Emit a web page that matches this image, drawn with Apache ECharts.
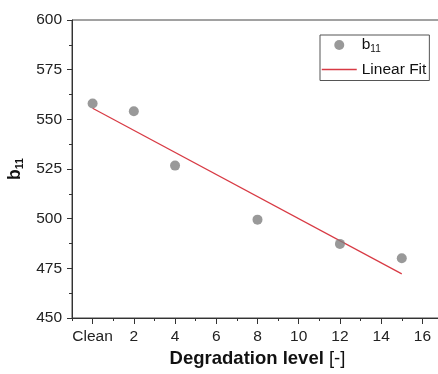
<!DOCTYPE html>
<html>
<head>
<meta charset="utf-8">
<script src="https://cdn.jsdelivr.net/npm/echarts@6/dist/echarts.min.js"></script>
<style>html,body{margin:0;padding:0;background:#fff}#c{width:438px;height:374px}</style>
</head>
<body>
<div id="c"></div>
<script>
// Axis categories (degradation levels on the x axis, -1 .. 17)
const axisCats = ['-1','0','1','2','3','4','5','6','7','8','9','10','11','12','13','14','15','16','17'];
const cleanLabel = 'Clean';
// Measured points
const levels = [0, 2, 4, 8, 12, 15];
const b11 = [558.0, 554.1, 526.7, 499.5, 487.3, 480.1];
// Linear fit end points
const fitLevels = [0, 15];
const fitValues = [555.6, 472.2];
// Y ticks
const yMin = 450, yMax = 600, yStep = 25;

const FONT = '"Liberation Sans", Arial, sans-serif';
const FIT_COLOR = '#d83a44';
const idx = v => axisCats.indexOf(String(v));

const chart = echarts.init(document.getElementById('c'), null, {renderer: 'canvas'});
chart.setOption({
  animation: false,
  backgroundColor: '#fff',
  textStyle: {fontFamily: FONT},
  grid: {left: 72, top: 20, width: 371, bottom: 56, containLabel: false, outerBoundsMode: 'none',
         show: true, borderColor: '#444', borderWidth: 1, backgroundColor: 'transparent'},
  legend: {
    orient: 'vertical', left: 320, top: 35,
    itemWidth: 35, itemHeight: 10, itemGap: 7,
    padding: [2, 3, 3, 1],
    borderColor: '#555', borderWidth: 1,
    data: [
      {name: 'b11', icon: 'circle'},
      {name: 'Linear Fit', itemStyle: {color: 'rgba(0,0,0,0)', borderWidth: 0}, lineStyle: {color: FIT_COLOR, width: 1.5}}
    ],
    textStyle: {fontFamily: FONT, fontSize: 15.5, color: '#111',
      rich: {b: {fontFamily: FONT, fontSize: 15.5, color: '#111'}, s: {fontFamily: FONT, fontSize: 10, color: '#111', padding: [9, 0, 0, 0]}}},
    formatter: n => n === 'b11' ? '{b|b}{s|11}' : n
  },
  xAxis: [{
    type: 'category', data: axisCats, boundaryGap: false, position: 'bottom',
    axisLine: {lineStyle: {color: '#333', width: 1}},
    axisTick: {interval: i => i % 2 === 1, length: 6, lineStyle: {color: '#333'}},
    axisLabel: {interval: i => i % 2 === 1, formatter: v => v === '0' ? cleanLabel : v, fontSize: 15.5, color: '#222', margin: 11, fontFamily: FONT},
    splitLine: {show: false},
    name: '{b|Degradation level }{n|[-]}', nameLocation: 'middle', nameGap: 30,
    nameTextStyle: {rich: {b: {fontFamily: FONT, fontSize: 18.5, fontWeight: 'bold', color: '#111'}, n: {fontFamily: FONT, fontSize: 18.5, color: '#111'}}}
  }, {
    type: 'category', data: axisCats, boundaryGap: false, position: 'bottom',
    axisLine: {show: false},
    axisTick: {interval: i => i % 2 === 0, length: 3, lineStyle: {color: '#333'}},
    axisLabel: {show: false},
    splitLine: {show: false}
  }],
  yAxis: {
    type: 'value', min: yMin, max: yMax, interval: yStep,
    axisLine: {show: true, lineStyle: {color: '#333', width: 1}},
    axisTick: {show: true, length: 5, lineStyle: {color: '#333'}},
    minorTick: {show: true, splitNumber: 2, length: 3, lineStyle: {color: '#333'}},
    axisLabel: {fontSize: 15.5, color: '#222', margin: 10, fontFamily: FONT},
    splitLine: {show: false},
    name: '{b|b}{s|11}', nameLocation: 'middle', nameGap: 44,
    nameTextStyle: {rich: {b: {fontFamily: FONT, fontSize: 17.5, fontWeight: 'bold', color: '#111'}, s: {fontFamily: FONT, fontSize: 10.5, fontWeight: 'bold', color: '#111', padding: [10, 0, 0, 0]}}}
  },
  series: [{
    name: 'b11', type: 'scatter', symbol: 'circle', symbolSize: 10,
    itemStyle: {color: '#7f7f7f'},
    data: levels.map((x, i) => [idx(x), b11[i]]), z: 3
  }, {
    name: 'Linear Fit', type: 'line', symbol: 'none', showSymbol: false,
    lineStyle: {color: FIT_COLOR, width: 1.2},
    itemStyle: {color: FIT_COLOR},
    data: fitLevels.map((x, i) => [idx(x), fitValues[i]]), z: 2
  }]
});
</script>
</body>
</html>
